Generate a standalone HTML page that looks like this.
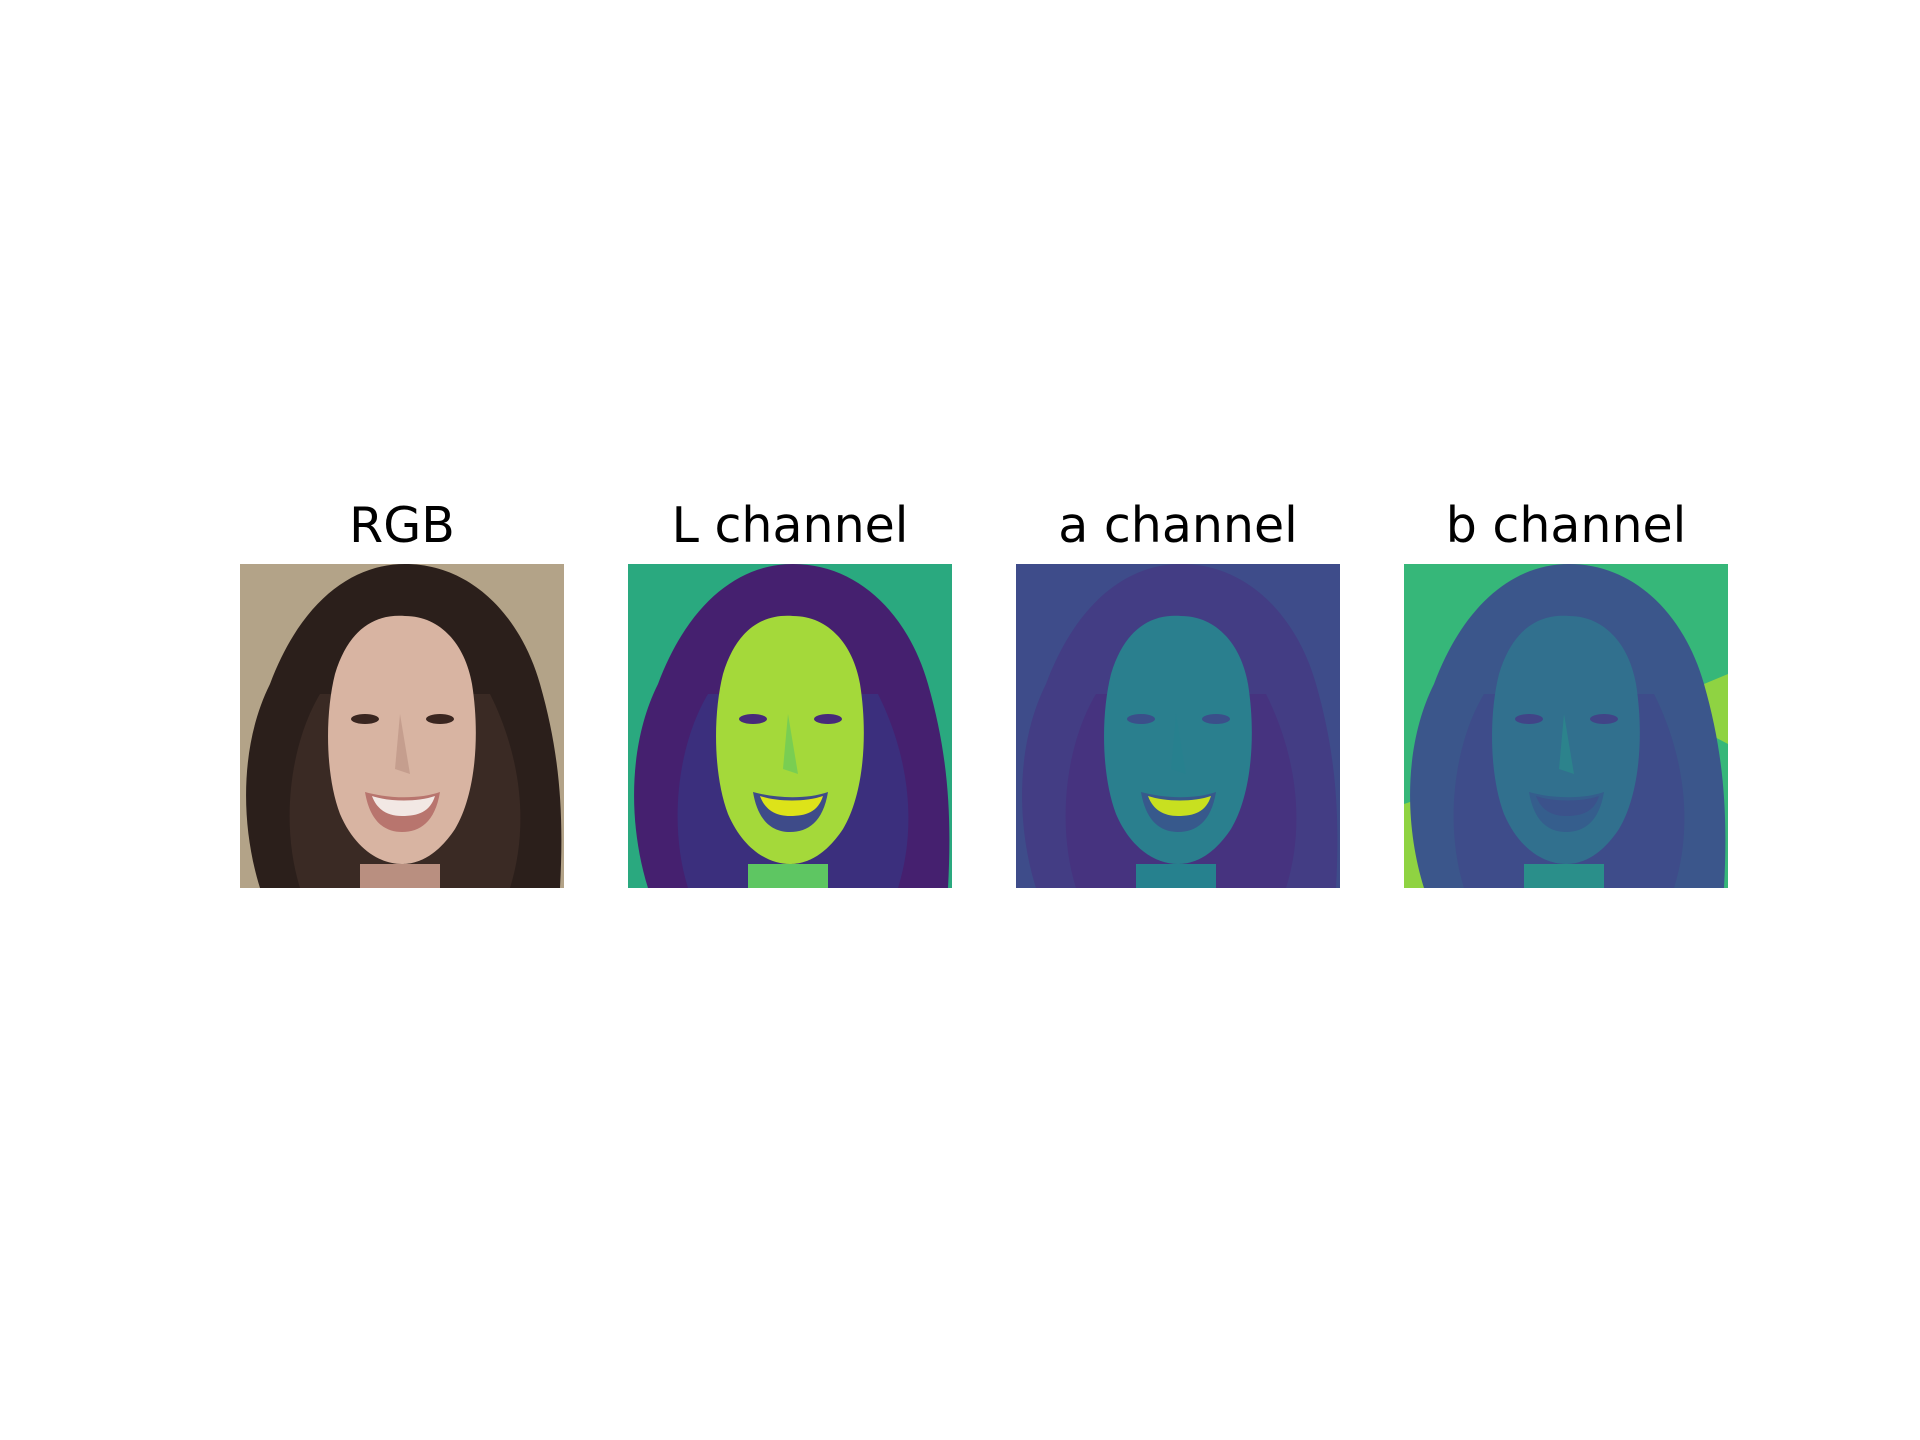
<!DOCTYPE html>
<html><head><meta charset="utf-8"><style>
html,body{margin:0;padding:0;background:#fff;width:1920px;height:1440px;overflow:hidden}
svg{display:block}
text{font-family:"DejaVu Sans","Liberation Sans",sans-serif;font-size:49px;fill:#000}
</style></head><body>
<svg id="fig" width="1920" height="1440"></svg>
<script>
const titles = ["RGB","L channel","a channel","b channel"];
const panelX = [240, 628, 1016, 1404];
const palettes = [
 {bg:"#b3a388",hair:"#2b1f1b",hair2:"#3a2a24",face:"#d8b4a2",shade:"#b98f80",mouth:"#f2e8e4",lip:"#b8756e",eye:"#3a2620"},
 {bg:"#2aa97f",hair:"#45206f",hair2:"#3b2f7d",face:"#a4d93a",shade:"#5ec662",mouth:"#dde319",lip:"#3e4b89",eye:"#472a7a"},
 {bg:"#3e4c8a",hair:"#433d84",hair2:"#46337f",face:"#2a7f8e",shade:"#26818e",mouth:"#c8e020",lip:"#37598c",eye:"#3b4f8a"},
 {bg:"#36b779",hair:"#3b568b",hair2:"#3e4c8a",face:"#31708e",shade:"#2a8f8a",mouth:"#3b528b",lip:"#355e8d",eye:"#414487"}
];
const NS="http://www.w3.org/2000/svg";
const svgRoot=document.getElementById('fig');
function el(tag,attrs,parent){const e=document.createElementNS(NS,tag);for(const k in attrs)e.setAttribute(k,attrs[k]);(parent||svgRoot).appendChild(e);return e;}
const panelTop=564, S=324;
titles.forEach((t,i)=>{
  const p=palettes[i];
  const g=el('g',{transform:`translate(${panelX[i]},${panelTop})`});
  
  
  el('rect',{x:0,y:0,width:S,height:S,fill:p.bg},g);
  if(i===3){el('path',{d:"M0,240 L30,230 L40,324 L0,324Z",fill:"#b5de2b",opacity:0.7},g);el('path',{d:"M300,120 L324,110 L324,180 L305,170Z",fill:"#b5de2b",opacity:0.7},g);}
  el('path',{d:"M20,324 C0,260 0,180 30,120 C60,40 110,0 165,0 C230,0 280,50 300,120 C320,190 324,250 320,324 Z",fill:p.hair},g);
  el('path',{d:"M60,324 C40,260 50,180 80,130 L250,130 C280,190 290,260 270,324Z",fill:p.hair2},g);
  el('path',{d:"M95,110 C110,60 140,50 165,52 C200,52 225,80 232,120 C240,170 236,230 215,265 C195,295 175,300 162,300 C140,300 115,285 100,250 C85,210 85,150 95,110Z",fill:p.face},g);
  el('rect',{x:120,y:300,width:80,height:24,fill:p.shade},g);
  el('ellipse',{cx:125,cy:155,rx:14,ry:5,fill:p.eye},g);
  el('ellipse',{cx:200,cy:155,rx:14,ry:5,fill:p.eye},g);
  el('path',{d:"M160,150 L155,205 L170,210 Z",fill:p.shade,opacity:0.6},g);
  el('path',{d:"M125,228 C150,235 180,235 200,228 C195,258 180,268 162,268 C145,268 130,258 125,228Z",fill:p.lip},g);
  el('path',{d:"M132,232 C150,238 178,238 195,232 C190,248 178,252 162,252 C148,252 137,246 132,232Z",fill:p.mouth},g);
  const tx=el('text',{x:panelX[i]+S/2,y:panelTop-22,'text-anchor':'middle'});
  tx.textContent=t;
  
  
});
</script>
</body></html>
